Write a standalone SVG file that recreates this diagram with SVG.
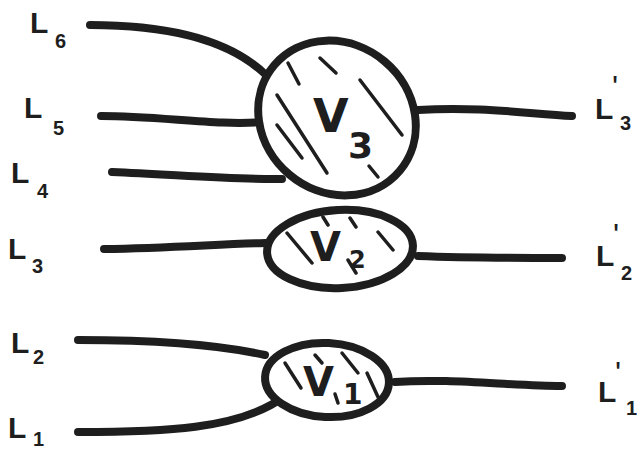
<svg xmlns="http://www.w3.org/2000/svg" width="637" height="449" viewBox="0 0 637 449">
<style>
.w{fill:none;stroke:#1e1e1e;stroke-width:8;stroke-linecap:round;stroke-linejoin:round}
.o{fill:#fff;stroke:#1e1e1e;stroke-width:8}
.h{fill:none;stroke:#1e1e1e;stroke-width:3.5;stroke-linecap:round}
.t{font-family:"Liberation Sans",Arial,sans-serif;fill:#1e1e1e}
.L{font-size:30px;font-weight:bold}
.s{font-size:20px;font-weight:bold}
.p{font-size:32px}
.v{font-family:"DejaVu Sans",sans-serif;font-weight:bold;fill:#1e1e1e}
</style>
<rect width="637" height="449" fill="#fff"/>
<g id="connectors">
<path class="w" d="M90,25 C170,25 230,40 266,75"/>
<path class="w" d="M101,116 C160,116 220,126 262,122"/>
<path class="w" d="M112,172 C180,175 240,180 282,179"/>
<path class="w" d="M418,110 C480,106 530,114 572,116"/>
<path class="w" d="M104,249 C170,248 220,244 265,243"/>
<path class="w" d="M418,256 C470,258 520,258 562,258"/>
<path class="w" d="M78,340 C150,340 220,345 265,355"/>
<path class="w" d="M78,432 C160,432 240,430 285,396"/>
<path class="w" d="M395,382 C450,378 510,386 562,386"/>
</g>
<g id="V3">
<ellipse class="o" cx="337" cy="118" rx="82" ry="74" transform="rotate(40 337 118)"/>
<path class="h" d="M288,63L299,84M320,58L336,73M277,95L327,173M277,125L302,158M360,80L402,135M369,166L378,177"/>
<text class="v" x="313" y="132" font-size="46">V</text>
<text class="v" x="348" y="158" font-size="36">3</text>
</g>
<g id="V2">
<ellipse class="o" cx="340" cy="249" rx="73" ry="39" transform="rotate(-3 340 249)"/>
<path class="h" d="M287,233L312,263M323,217L328,225M350,218L356,227M378,232L393,250M348,260L356,273"/>
<text class="v" x="310" y="261" font-size="40">V</text>
<text class="v" x="349" y="268" font-size="24">2</text>
</g>
<g id="V1">
<ellipse class="o" cx="327" cy="380" rx="62" ry="37" transform="rotate(3 327 380)"/>
<path class="h" d="M285,363L301,388M315,355L322,363M342,353L358,373M367,373L378,397M335,394L338,403"/>
<text class="v" x="303" y="396" font-size="40">V</text>
<text class="v" x="343" y="404" font-size="28">1</text>
</g>
<g id="L6"><text class="t L" x="30" y="33">L</text><text class="t s" x="55" y="48">6</text></g>
<g id="L5"><text class="t L" x="24" y="118">L</text><text class="t s" x="53" y="135">5</text></g>
<g id="L4"><text class="t L" x="11" y="183">L</text><text class="t s" x="37" y="198">4</text></g>
<g id="L3"><text class="t L" x="8" y="259">L</text><text class="t s" x="32" y="273">3</text></g>
<g id="L2"><text class="t L" x="11" y="353">L</text><text class="t s" x="33" y="364">2</text></g>
<g id="L1"><text class="t L" x="8" y="438">L</text><text class="t s" x="33" y="446" font-size="18">1</text></g>
<g id="Lp3"><text class="t L" x="595" y="119">L</text><text class="t p" x="612" y="98">'</text><text class="t s" x="620" y="130">3</text></g>
<g id="Lp2"><text class="t L" x="596" y="266">L</text><text class="t p" x="613" y="246">'</text><text class="t s" x="621" y="280">2</text></g>
<g id="Lp1"><text class="t L" x="598" y="402">L</text><text class="t p" x="615" y="384">'</text><text class="t s" x="626" y="415">1</text></g>
</svg>
